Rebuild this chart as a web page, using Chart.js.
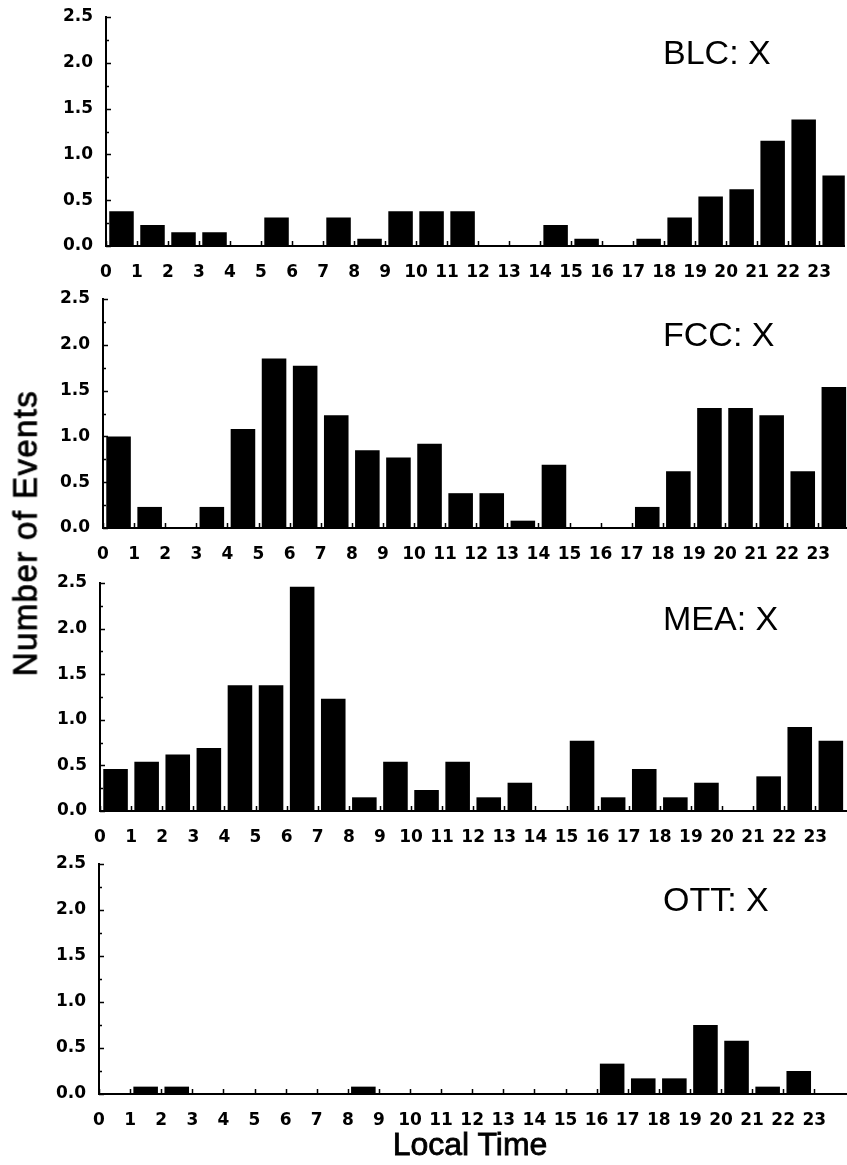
<!DOCTYPE html>
<html>
<head>
<meta charset="utf-8">
<script src="https://cdn.jsdelivr.net/npm/chart.js@4.4.1/dist/chart.umd.min.js"></script>
<style>
  html, body { margin: 0; padding: 0; background: #fff; overflow: hidden; }
  body { width: 847px; height: 1165px; position: relative; font-family: "Liberation Sans", Arial, sans-serif; color: #000; }
  canvas { position: absolute; left: 0; }
  .ylabel {
    position: absolute; left: 25px; top: 533px;
    transform: translate(-50%, -50%) rotate(-90deg);
    font-size: 33px; line-height: 33px; letter-spacing: 1.4px;
    white-space: nowrap; -webkit-text-stroke: 0.8px #000;
  }
  .xlabel {
    position: absolute; left: 470px; top: 1128px;
    transform: translateX(-50%);
    font-size: 32px; line-height: 32px;
    white-space: nowrap; -webkit-text-stroke: 0.8px #000;
  }
</style>
</head>
<body>
<canvas id="blc" width="847" height="289"></canvas>
<canvas id="fcc" width="847" height="289"></canvas>
<canvas id="mea" width="847" height="288"></canvas>
<canvas id="ott" width="847" height="290"></canvas>
<div class="ylabel">Number of Events</div>
<div class="xlabel">Local Time</div>

<script>
const hours = [0, 1, 2, 3, 4, 5, 6, 7, 8, 9, 10, 11, 12, 13, 14, 15, 16, 17, 18, 19, 20, 21, 22, 23];

const blc = [0.38, 0.23, 0.15, 0.15, 0, 0.31, 0, 0.31, 0.08, 0.38, 0.38, 0.38, 0, 0, 0.23, 0.08, 0, 0.08, 0.31, 0.54, 0.62, 1.15, 1.38, 0.77];
const fcc = [1.0, 0.23, 0, 0.23, 1.08, 1.85, 1.77, 1.23, 0.85, 0.77, 0.92, 0.38, 0.38, 0.08, 0.69, 0, 0, 0.23, 0.62, 1.31, 1.31, 1.23, 0.62, 1.54];
const mea = [0.46, 0.54, 0.62, 0.69, 1.38, 1.38, 2.46, 1.23, 0.15, 0.54, 0.23, 0.54, 0.15, 0.31, 0, 0.77, 0.15, 0.46, 0.15, 0.31, 0, 0.38, 0.92, 0.77];
const ott = [0, 0.08, 0.08, 0, 0, 0, 0, 0, 0.08, 0, 0, 0, 0, 0, 0, 0, 0.33, 0.17, 0.17, 0.75, 0.58, 0.08, 0.25, 0];

const yMax = 2.5;
const yStep = 0.5;

// top padding has to clear the y label half-height plus tick padding
const padTop = 24;
const xAxisH = 36;

// inward tick marks on both axes plus the station name inside the plot
const panelDecor = {
  id: 'panelDecor',
  afterDraw(chart, args, opts) {
    const { ctx, chartArea, scales: { x, y } } = chart;
    ctx.save();
    ctx.strokeStyle = '#000';
    ctx.lineWidth = 1.5;
    ctx.beginPath();
    for (let k = 0; k <= yMax / 0.25; k++) {
      const py = Math.round(y.getPixelForValue(k * 0.25)) + 0.5;
      const len = k % 2 ? 3 : 5;
      ctx.moveTo(chartArea.left, py);
      ctx.lineTo(chartArea.left + len, py);
    }
    hours.forEach(h => {
      const px = Math.round(x.getPixelForValue(h)) + 0.5;
      ctx.moveTo(px, chartArea.bottom);
      ctx.lineTo(px, chartArea.bottom - 5);
    });
    ctx.stroke();

    ctx.fillStyle = '#000';
    ctx.font = '34px "Liberation Sans", Arial, sans-serif';
    ctx.textBaseline = 'alphabetic';
    ctx.textAlign = 'left';
    ctx.fillText(opts.text, 663, chartArea.top + 47);
    ctx.restore();
  }
};

const tickFont = { family: '"DejaVu Sans", sans-serif', size: 17, weight: 'bold' };

// plotTop / plotBottom are where 2.5 and 0.0 land on the page
function drawPanel(id, title, values, axisX, plotTop, plotBottom) {
  const slot = 31.1;
  const canvas = document.getElementById(id);
  canvas.style.top = (plotTop - padTop) + 'px';
  canvas.height = padTop + (plotBottom - plotTop) + xAxisH;

  new Chart(canvas, {
    type: 'bar',
    data: {
      datasets: [{
        data: values.map((v, i) => ({ x: hours[i] + 0.5, y: v })),
        backgroundColor: '#000',
        borderWidth: 0,
        barPercentage: 1,
        categoryPercentage: 0.79
      }]
    },
    options: {
      responsive: false,
      animation: false,
      layout: { padding: { top: padTop, left: 0, right: 0, bottom: 0 } },
      plugins: {
        legend: { display: false },
        tooltip: { enabled: false },
        panelDecor: { text: title }
      },
      scales: {
        x: {
          type: 'linear',
          min: 0,
          max: (847 - axisX) / slot,
          offset: false,
          grid: { display: false, drawTicks: false, offset: false },
          border: { display: true, color: '#000', width: 2 },
          afterBuildTicks: s => { s.ticks = hours.map(h => ({ value: h })); },
          afterFit: s => { s.height = xAxisH; },
          ticks: {
            autoSkip: false,
            maxRotation: 0,
            padding: 16,
            color: '#000',
            font: tickFont,
            callback: v => String(v)
          }
        },
        y: {
          min: 0,
          max: yMax,
          grid: { display: false, drawTicks: false },
          border: { display: true, color: '#000', width: 2 },
          afterFit: s => { s.width = axisX; },
          ticks: {
            stepSize: yStep,
            padding: 13,
            color: '#000',
            font: tickFont,
            callback: v => v.toFixed(1)
          }
        }
      }
    },
    plugins: [panelDecor]
  });
}

drawPanel('blc', 'BLC: X', blc, 106, 17, 246);
drawPanel('fcc', 'FCC: X', fcc, 103, 299, 528);
drawPanel('mea', 'MEA: X', mea, 100, 583, 811);
drawPanel('ott', 'OTT: X', ott, 99, 864, 1094);
</script>
</body>
</html>
